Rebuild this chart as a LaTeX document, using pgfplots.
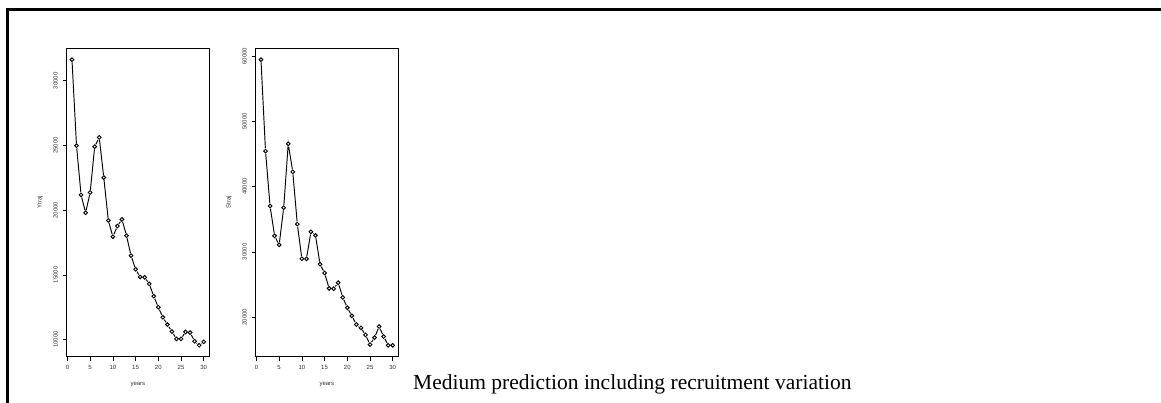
\documentclass[border=0pt]{standalone}
\usepackage{fontspec}
\setmainfont{Liberation Serif}
\newfontfamily\arial{Liberation Sans}
\usepackage{pgfplots}
\pgfplotsset{compat=1.18}
\usepackage{pgfplotstable}

\pgfplotstableread{
x y
1 31620
2 24980
3 21180
4 19800
5 21360
6 24900
7 25620
8 22520
9 19200
10 17950
11 18770
12 19280
13 18030
14 16490
15 15430
16 14840
17 14810
18 14300
19 13350
20 12500
21 11720
22 11160
23 10620
24 10050
25 10050
26 10590
27 10540
28 9870
29 9560
30 9820
}\ytraj

\pgfplotstableread{
x y
1 59450
2 45450
3 37030
4 32460
5 31080
6 36770
7 46570
8 42260
9 34260
10 28950
11 28930
12 33080
13 32520
14 28110
15 26770
16 24410
17 24360
18 25280
19 23030
20 21440
21 20200
22 18870
23 18360
24 17280
25 15800
26 16870
27 18560
28 17030
29 15690
30 15690
}\straj

\pgfplotsset{
  rplot/.style={
    scale only axis, width=142.3pt, height=308.4pt,
    anchor=south west,
    xmin=-0.16, xmax=31.16,
    xtick={0,5,...,30},
    tick pos=left,
    tick align=outside,
    major tick length=4pt,
    axis line style={line width=0.9pt},
    every tick/.style={line width=0.7pt, black},
    tick label style={font=\arial\fontsize{6}{7}\selectfont, text=black!80},
    label style={font=\arial\fontsize{6}{7}\selectfont, text=black!80},
    /pgf/number format/assume math mode=true,
    /pgf/number format/1000 sep={},
    scaled y ticks=false,
    yticklabel style={rotate=90, anchor=south},
    yticklabel shift=1.5pt,
    xticklabel shift=1.5pt,
    xlabel=years,
    xlabel style={at={(axis description cs:0.5,-0.0885)}, anchor=center, yshift=-1pt},
    ylabel style={at={(axis description cs:-0.187,0.5)}, anchor=center},
  },
  rline/.style={black, line width=0.95pt},
  rgap/.style={only marks, mark=*, mark size=2.5pt, white},
  rmark/.style={only marks, mark=o, mark size=1.85pt, mark options={line width=0.95pt, black}},
}

\begin{document}
\begin{tikzpicture}
\draw[line width=2.5pt] (7.3pt,0pt) -- (7.3pt,393.7pt) -- (1161pt,393.7pt);

\begin{axis}[rplot, at={(66.7pt,46.3pt)},
  ymin=8677.6, ymax=32502.4,
  ytick={10000,15000,20000,25000,30000},
  ylabel=Ytraj]
\addplot[rline] table {\ytraj};
\addplot[rgap] table {\ytraj};
\addplot[rmark] table {\ytraj};
\end{axis}

\begin{axis}[rplot, at={(255.7pt,46.3pt)},
  ymin=13939.6, ymax=61200.4,
  ytick={20000,30000,40000,50000,60000},
  ylabel=Straj]
\addplot[rline] table {\straj};
\addplot[rgap] table {\straj};
\addplot[rmark] table {\straj};
\end{axis}

\node[anchor=base west, inner sep=0pt, font=\fontsize{21.5}{25}\selectfont] at (413pt,13pt) {Medium prediction including recruitment variation};

\pgfresetboundingbox
\path[use as bounding box] (0pt,0pt) rectangle (1161pt,403pt);
\end{tikzpicture}
\end{document}
